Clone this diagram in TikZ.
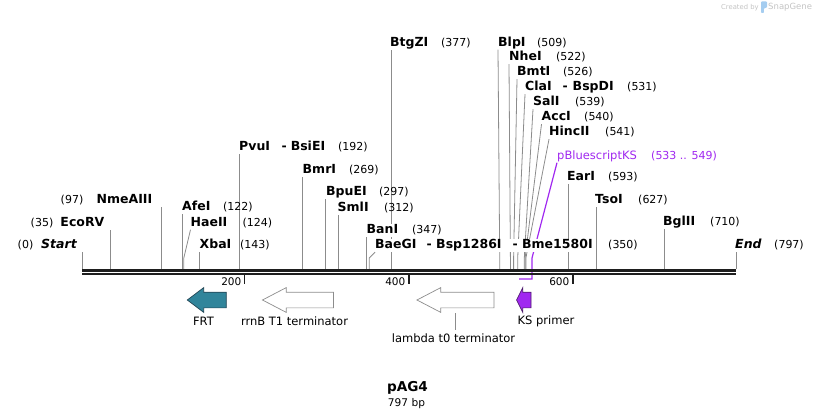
\documentclass[tikz,border=0pt]{standalone}
\usepackage{fontspec}
\setmainfont{DejaVu Sans}
\usetikzlibrary{shapes.arrows,backgrounds}

\definecolor{sitegray}{RGB}{140,140,140}
\definecolor{backbone}{RGB}{30,30,30}
\definecolor{primerpurple}{RGB}{160,40,240}
\definecolor{primeredge}{RGB}{80,30,110}
\definecolor{frtteal}{RGB}{49,133,155}
\definecolor{frtedge}{RGB}{35,70,85}
\definecolor{logogray}{RGB}{195,195,195}
\definecolor{logoblue}{RGB}{165,205,240}

\tikzset{
  enzyme/.style={font=\fontsize{12.5}{14}\selectfont\bfseries, inner xsep=0pt, inner ysep=0.5pt,
    text height=9pt, text depth=2.5pt, fill=white, anchor=base west},
  enzleft/.style={enzyme, anchor=base east},
  cutpos/.style={font=\fontsize{11}{13}\selectfont, inner sep=0pt, anchor=base west},
  posleft/.style={cutpos, anchor=base east},
  cutline/.style={draw=sitegray, line width=0.8pt},
  featarrow/.style={single arrow, draw, line width=0.7pt, inner xsep=0pt, inner ysep=7.5pt,
    minimum width=24pt, single arrow head extend=4.5pt, shape border rotate=180},
  featname/.style={font=\fontsize{11.5}{13}\selectfont, inner sep=0pt},
  ruler/.style={font=\fontsize{10.5}{12}\selectfont, inner sep=0pt, anchor=base east},
  tick/.style={draw=backbone, line width=1.8pt}
}

\begin{document}
\begin{tikzpicture}[x=1pt, y=-1pt]
\useasboundingbox (0,0) rectangle (818,419);

\coordinate (bendline) at (0,258);
\coordinate (startsite) at (82,269.5);
\coordinate (ecorvsite) at (110.7,269.5);
\coordinate (nmeaiiisite) at (161.6,269.5);
\coordinate (afeisite) at (182.1,269.5);
\coordinate (haeiisite) at (183.8,269.5);
\coordinate (xbaisite) at (199.3,269.5);
\coordinate (pvuisite) at (239.6,269.5);
\coordinate (bmrisite) at (302.7,269.5);
\coordinate (bpueisite) at (325.7,269.5);
\coordinate (smlisite) at (338.0,269.5);
\coordinate (banisite) at (366.7,269.5);
\coordinate (baegisite) at (369.2,269.5);
\coordinate (btgzisite) at (391.4,269.5);
\coordinate (blpisite) at (499.7,269.5);
\coordinate (nheisite) at (510.4,269.5);
\coordinate (bmtisite) at (513.6,269.5);
\coordinate (claisite) at (517.7,269.5);
\coordinate (salisite) at (524.3,269.5);
\coordinate (accisite) at (525.1,269.5);
\coordinate (hinciisite) at (525.9,269.5);
\coordinate (earisite) at (568.6,269.5);
\coordinate (tsoisite) at (596.5,269.5);
\coordinate (bgliisite) at (664.6,269.5);
\coordinate (endsite) at (736.0,269.5);
\coordinate (ksright) at (532,279);
\coordinate (ksleft) at (519,279);
\coordinate (lambdamid) at (455.5,313);

\node[enzleft] (start) at (77,249) {\itshape Start};
\node[posleft] (startpos) at (33.5,249) {(0)};
\node[enzleft] (ecorv) at (104.5,226.5) {EcoRV};
\node[posleft] (ecorvpos) at (53.5,226.5) {(35)};
\node[enzleft] (nmeaiii) at (152.5,204) {NmeAIII};
\node[posleft] (nmeaiiipos) at (83.5,204) {(97)};
\node[enzyme] (afei) at (182,211) {AfeI};
\node[cutpos] (afeipos) at (223,211) {(122)};
\node[enzyme] (haeii) at (190.5,226.5) {HaeII};
\node[cutpos] (haeiipos) at (242.5,226.5) {(124)};
\node[enzyme] (xbai) at (199.5,249) {XbaI};
\node[cutpos] (xbaipos) at (240,249) {(143)};
\node[enzyme] (pvui) at (239,150.5) {PvuI\hspace{11.5pt}-\hspace{4pt}BsiEI};
\node[cutpos] (pvuipos) at (338,150.5) {(192)};
\node[enzyme] (bmri) at (302.5,174) {BmrI};
\node[cutpos] (bmripos) at (349,174) {(269)};
\node[enzyme] (bpuei) at (326,196) {BpuEI};
\node[cutpos] (bpueipos) at (379,196) {(297)};
\node[enzyme] (smli) at (337.5,211.5) {SmlI};
\node[cutpos] (smlipos) at (384,211.5) {(312)};
\node[enzyme] (bani) at (366.5,234) {BanI};
\node[cutpos] (banipos) at (412,234) {(347)};
\node[enzyme] (baegi) at (375,249) {BaeGI\hspace{10.1pt}-\hspace{4.4pt}Bsp1286I\hspace{11pt}-\hspace{4.4pt}Bme1580I};
\node[cutpos] (baegipos) at (608,249) {(350)};
\node[enzyme] (btgzi) at (390,46.5) {BtgZI};
\node[cutpos] (btgzipos) at (441,46.5) {(377)};
\node[enzyme] (blpi) at (498,46.5) {BlpI};
\node[cutpos] (blpipos) at (537,46.5) {(509)};
\node[enzyme] (nhei) at (509,61) {NheI};
\node[cutpos] (nheipos) at (556,61) {(522)};
\node[enzyme] (bmti) at (517,76) {BmtI};
\node[cutpos] (bmtipos) at (563,76) {(526)};
\node[enzyme] (clai) at (525,91) {ClaI\hspace{10.8pt}-\hspace{5pt}BspDI};
\node[cutpos] (claipos) at (627,91) {(531)};
\node[enzyme] (sali) at (533,106) {SalI};
\node[cutpos] (salipos) at (575,106) {(539)};
\node[enzyme] (acci) at (541.5,121) {AccI};
\node[cutpos] (accipos) at (584,121) {(540)};
\node[enzyme] (hincii) at (549,136) {HincII};
\node[cutpos] (hinciipos) at (605,136) {(541)};
\node[enzyme, font=\fontsize{11.5}{13}\selectfont, text=primerpurple] (kslabel) at (557,159.5) {pBluescriptKS};
\node[cutpos, text=primerpurple] (kspos) at (651,159.5) {(533 .. 549)};
\node[enzyme] (eari) at (567,181) {EarI};
\node[cutpos] (earipos) at (608,181) {(593)};
\node[enzyme] (tsoi) at (595,204) {TsoI};
\node[cutpos] (tsoipos) at (638,204) {(627)};
\node[enzyme] (bglii) at (663,226) {BglII};
\node[cutpos] (bgliipos) at (710,226) {(710)};
\node[enzyme] (finish) at (735,249) {\itshape End};
\node[cutpos] (finishpos) at (774,249) {(797)};

\begin{pgfonlayer}{background}
  \draw[cutline] (startsite) -- (startsite |- start.south);
  \draw[cutline] (ecorvsite) -- (ecorvsite |- ecorv.south);
  \draw[cutline] (nmeaiiisite) -- (nmeaiiisite |- nmeaiii.south);
  \draw[cutline] (afeisite) -- (afeisite |- afei.south);
  \draw[cutline] (haeii.south west) -- (haeiisite |- bendline) -- (haeiisite);
  \draw[cutline] (xbaisite) -- (xbaisite |- xbai.south);
  \draw[cutline] (pvuisite) -- (pvuisite |- pvui.south);
  \draw[cutline] (bmrisite) -- (bmrisite |- bmri.south);
  \draw[cutline] (bpueisite) -- (bpueisite |- bpuei.south);
  \draw[cutline] (smlisite) -- (smlisite |- smli.south);
  \draw[cutline] (banisite) -- (banisite |- bani.south);
  \draw[cutline] (baegi.south west) -- (baegisite |- bendline) -- (baegisite);
  \draw[cutline] (btgzisite) -- (btgzisite |- btgzi.south);
  \draw[cutline] (blpi.south west) -- (blpisite |- bendline) -- (blpisite);
  \draw[cutline] (nhei.south west) -- (nheisite |- bendline) -- (nheisite);
  \draw[cutline] (bmti.south west) -- (bmtisite |- bendline) -- (bmtisite);
  \draw[cutline] (clai.south west) -- (claisite |- bendline) -- (claisite);
  \draw[cutline] (sali.south west) -- (salisite |- bendline) -- (salisite);
  \draw[cutline] (acci.south west) -- (accisite |- bendline) -- (accisite);
  \draw[cutline] (hincii.south west) -- (hinciisite |- bendline) -- (hinciisite);
  \draw[cutline] (earisite) -- (earisite |- eari.south);
  \draw[cutline] (tsoisite) -- (tsoisite |- tsoi.south);
  \draw[cutline] (bgliisite) -- (bgliisite |- bglii.south);
  \draw[cutline] (endsite) -- (endsite |- finish.south);
  \draw[primerpurple, line width=1.2pt] (kslabel.south west) -- (ksright |- bendline) -- (ksright) -- (ksleft);
\end{pgfonlayer}

\draw[backbone, line width=2.6pt] (82,270.8) -- (736,270.8);
\draw[backbone, line width=2pt] (82,274.4) -- (736,274.4);

\node[ruler] (r200) at (241.5,286) {200};
\draw[tick] (244.5,275.5) -- (244.5,284);
\node[ruler] (r400) at (405.5,286) {400};
\draw[tick] (409,275.5) -- (409,284);
\node[ruler] (r600) at (569.5,286) {600};
\draw[tick] (573,275.5) -- (573,284);

\node[featarrow, fill=frtteal, draw=frtedge, minimum height=39pt, single arrow tip angle=74] (frt) at (212,300) {};
\node[featarrow, fill=white, draw=sitegray, minimum height=71pt, single arrow tip angle=55] (rrnb) at (305.5,300) {};
\node[featarrow, fill=white, draw=sitegray, minimum height=77pt, single arrow tip angle=55] (lambda) at (463,300) {};
\node[featarrow, fill=primerpurple, draw=primeredge, minimum height=14.5pt, single arrow tip angle=127] (ksprimer) at (525.75,300) {};

\node[featname] (frtname) at (203.5,321) {FRT};
\node[featname] (rrnbname) at (294.5,321) {rrnB T1 terminator};
\node[featname] (ksname) at (546,321) {KS primer};
\node[featname] (lambdaname) at (453.5,338) {lambda t0 terminator};
\draw[cutline] (lambdamid) -- ([yshift=3pt]lambdaname.north -| lambdamid);

\node[font=\fontsize{13.6}{15}\selectfont\bfseries] (mapname) at (407.5,388) {pAG4};
\node[font=\fontsize{10.6}{12}\selectfont] (maplength) at (406.5,404) {797 bp};

\node[font=\fontsize{6.8}{8}\selectfont, text=logogray, anchor=west, inner sep=0pt] (createdby) at (721,7.5) {Created by};
\fill[logoblue, rounded corners=0.8pt] (761,1.5) -- (767,1.5) -- (767,7.5) -- (763.8,8.5) -- (763.8,13) -- (761,13) -- cycle;
\node[font=\fontsize{8.5}{10}\selectfont, text=logogray, anchor=west, inner sep=0pt] (snapgene) at (768,7.5) {SnapGene};
\end{tikzpicture}
\end{document}
